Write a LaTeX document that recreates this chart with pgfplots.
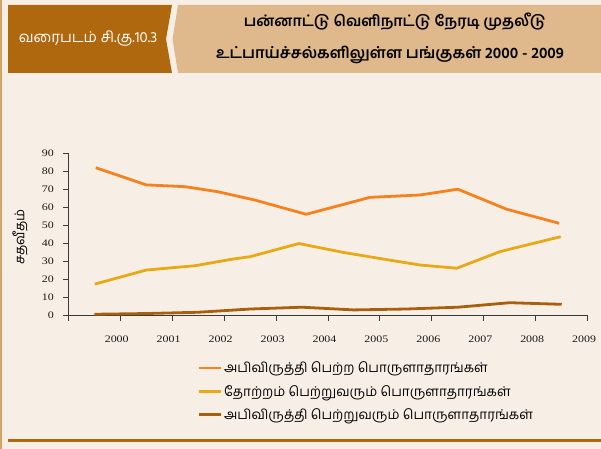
\documentclass[border=0pt]{standalone}
\usepackage{fontspec}
\usepackage{pgfplots}
\pgfplotsset{compat=1.18}
\setmainfont{Liberation Serif}
\newfontfamily\tickfont[FakeStretch=1.2]{Liberation Serif}
\newfontfamily\tamil[Script=Tamil]{Hind Madurai}

\definecolor{bg}{HTML}{F7EFE6}
\definecolor{edge}{HTML}{D8A266}
\definecolor{hdrbrown}{HTML}{B0680F}
\definecolor{hdrtan}{HTML}{DFB88C}
\definecolor{sorange}{HTML}{F5821F}
\definecolor{syellow}{HTML}{E8A917}
\definecolor{sbrown}{HTML}{A8600E}
\definecolor{axisgray}{HTML}{3A3A3A}

\begin{document}
\begin{tikzpicture}[x=1bp,y=1bp]
  % page background and frame
  \fill[bg] (0,0) rectangle (601,449);
  \fill[edge] (0,0) rectangle (1.5,449);
  \fill[hdrbrown] (8,7) rectangle (601,10);

  % header boxes
  \fill[hdrbrown] (8,444) -- (172,444) -- (166,410) -- (172,376) -- (8,376) -- cycle;
  \fill[hdrtan] (178,444) -- (601,444) -- (601,376) -- (178,376) -- (172.5,410) -- cycle;
  \node[white, font=\tamil\fontsize{15}{17}\selectfont] at (88,410) {வரைபடம் சி.கு.10.3};
  \node[font=\tamil\bfseries\fontsize{15}{17}\selectfont] at (395,427) {பன்னாட்டு வெளிநாட்டு நேரடி முதலீடு};
  \node[font=\tamil\bfseries\fontsize{15.5}{17}\selectfont] at (390,394) {உட்பாய்ச்சல்களிலுள்ள பங்குகள் 2000 - 2009};

  \begin{axis}[
      at={(68.3bp,133.3bp)}, anchor=origin,
      scale only axis, width=519.4bp, height=162.4bp,
      xmin=1999, xmax=2009, ymin=0, ymax=90,
      axis lines=left, axis line style={-, axisgray, line width=1.1bp},
      tick style={axisgray, line width=0.9bp},
      tick align=outside, major tick length=5bp,
      xtick={2000,...,2009},
      ytick={0,10,...,90},
      /pgf/number format/assume math mode=true,
      /pgf/number format/1000 sep={},
      tick label style={font=\tickfont\fontsize{10}{11}\selectfont, text=black!90},
      xticklabel style={yshift=-12bp, xshift=-3.5bp},
      yticklabel style={xshift=-6bp},
      ylabel={\tamil சதவீதம்},
      ylabel style={at={(axis description cs:-0.093,0.485)}, anchor=center,
        font=\fontsize{13.5}{14}\selectfont},
      legend style={at={(axis description cs:0.248,-0.27)}, anchor=north west,
        draw=none, fill=none, font=\tamil\fontsize{13.5}{15}\selectfont,
        row sep=7bp, inner sep=0pt},
      legend cell align=left,
      legend image code/.code={\draw[#1] (0bp,0bp) -- (22bp,0bp);},
      line join=round,
    ]
    \addplot[sorange, line width=2.8bp] coordinates {
      (1999.53,82.0) (2000.50,72.5) (2001.25,71.5) (2001.88,68.7)
      (2002.59,64.1) (2003.58,56.2) (2004.81,65.6) (2005.77,66.9)
      (2006.50,70.1) (2007.44,59.0) (2008.45,51.2)};
    \addplot[syellow, line width=2.8bp] coordinates {
      (1999.51,17.5) (2000.50,25.3) (2001.44,27.7) (2002.15,31.3)
      (2002.50,32.7) (2003.44,40.0) (2004.29,35.1) (2005.06,31.4)
      (2005.77,28.1) (2006.48,26.3) (2007.31,35.5) (2008.48,43.8)};
    \addplot[sbrown, line width=2.8bp] coordinates {
      (1999.5,0.8) (2000.5,1.2) (2001.5,1.9) (2002.5,3.7) (2003.5,4.7)
      (2004.5,3.2) (2005.5,3.7) (2006.5,4.7) (2007.5,7.2) (2008.5,6.3)};
    \legend{அபிவிருத்தி பெற்ற பொருளாதாரங்கள்,
      தோற்றம் பெற்றுவரும் பொருளாதாரங்கள்,
      அபிவிருத்தி பெற்றுவரும் பொருளாதாரங்கள்}
  \end{axis}
  % tick at the axis corner
  \draw[axisgray, line width=0.9bp] (68.3,133.3) -- (68.3,128.3);
\end{tikzpicture}
\end{document}
